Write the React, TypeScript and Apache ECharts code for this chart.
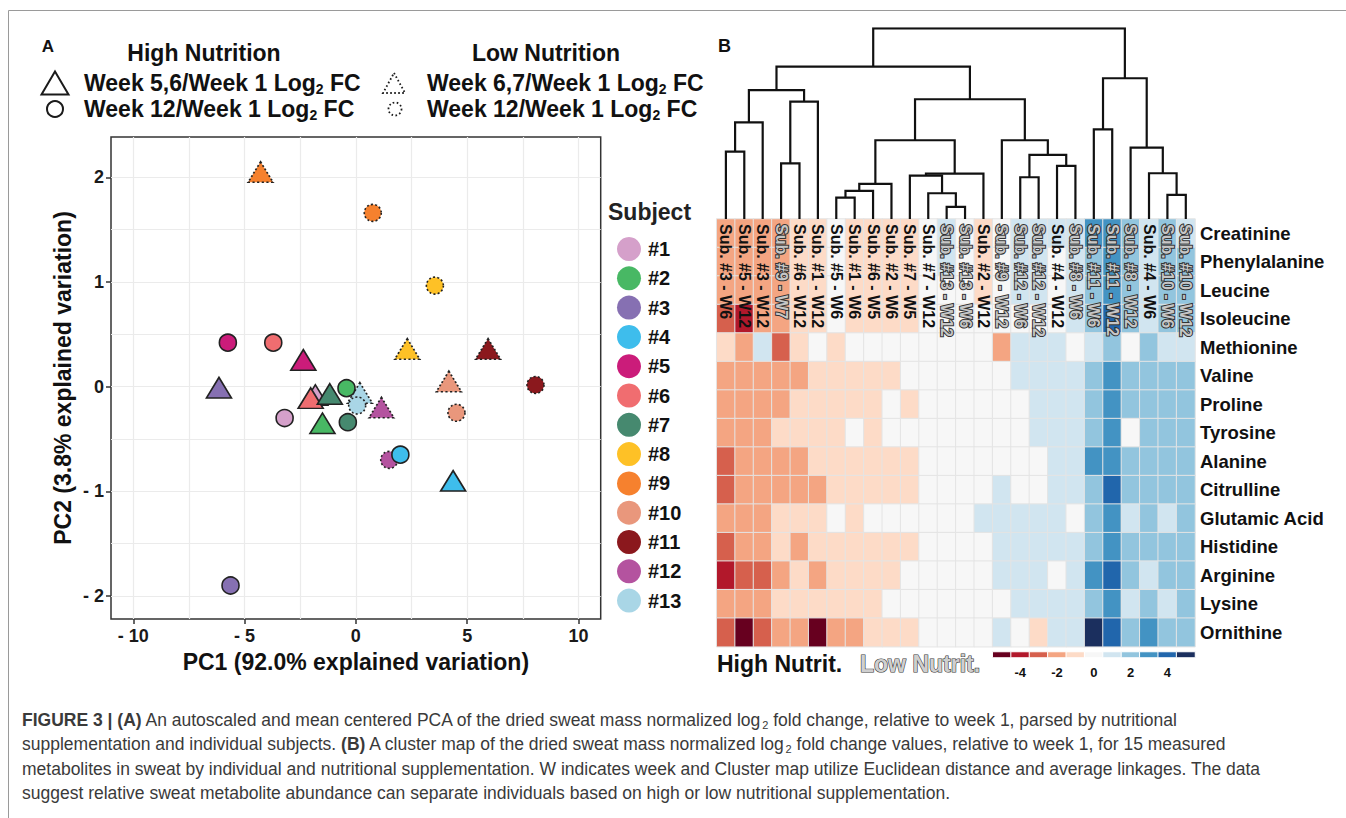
import React, { useEffect, useRef } from "react";
import * as echarts from "echarts";

const FONT = "'Liberation Sans', Arial, Helvetica, sans-serif";

// ---------- Panel A : PCA ----------
const subjects = ["#1", "#2", "#3", "#4", "#5", "#6", "#7", "#8", "#9", "#10", "#11", "#12", "#13"];
const subjectColors = ["#D5A0CA", "#48B864", "#8670B2", "#3EBDEC", "#CB1C7A", "#F06D70", "#46896F", "#FEC126", "#F6812E", "#E9977C", "#8B181D", "#B4539F", "#A9D6E6"];
const nutritionGroup = ["High", "High", "High", "High", "High", "High", "High", "Low", "Low", "Low", "Low", "Low", "Low"];
// triangle: Week 5,6 (high) or Week 6,7 (low) vs Week 1
const midWeekPC1 = [-1.82, -1.5, -6.15, 4.37, -2.36, -2.03, -1.17, 2.31, -4.28, 4.18, 5.94, 1.15, 0.18];
const midWeekPC2 = [-0.08, -0.35, -0.01, -0.9, 0.255, -0.11, -0.07, 0.36, 2.05, 0.05, 0.36, -0.2, -0.06];
// circle: Week 12 vs Week 1
const week12PC1 = [-3.2, -0.42, -5.63, 2.0, -5.75, -3.71, -0.36, 3.55, 0.76, 4.52, 8.07, 1.5, 0.06];
const week12PC2 = [-0.3, -0.015, -1.9, -0.65, 0.42, 0.42, -0.34, 0.965, 1.66, -0.25, 0.016, -0.7, -0.18];

const pcXMajor = [-10, -5, 0, 5, 10];
const pcXMinor = [-10, -7.5, -5, -2.5, 0, 2.5, 5, 7.5, 10];
const pcYMajor = [-2, -1, 0, 1, 2];
const pcYMinor = [-2, -1.5, -1, -0.5, 0, 0.5, 1, 1.5, 2];

// ---------- Panel B : cluster map ----------
const sampleLabels = [
  "Sub. #3 - W6", "Sub. #5 - W12", "Sub. #3 - W12", "Sub. #9 - W7", "Sub. #6 - W12", "Sub. #1 - W12",
  "Sub. #5 - W6", "Sub. #1 - W6", "Sub. #6 - W5", "Sub. #2 - W6", "Sub. #7 - W5", "Sub. #7 - W12",
  "Sub. #13 - W12", "Sub. #13 - W6", "Sub. #2 - W12", "Sub. #9 - W12", "Sub. #12 - W6", "Sub. #12 - W12",
  "Sub. #4 - W12", "Sub. #8 - W6", "Sub. #11 - W6", "Sub. #11 - W12", "Sub. #8 - W12", "Sub. #4 - W6",
  "Sub. #10 - W6", "Sub. #10 - W12",
];
const sampleGroup = ["H", "H", "H", "L", "H", "H", "H", "H", "H", "H", "H", "H", "L", "L", "H", "L", "L", "L", "H", "L", "L", "L", "L", "H", "L", "L"];

const metabolites = ["Creatinine", "Phenylalanine", "Leucine", "Isoleucine", "Methionine", "Valine", "Proline", "Tyrosine", "Alanine", "Citrulline", "Glutamic Acid", "Histidine", "Arginine", "Lysine", "Ornithine"];

const creatinine = [-2, -2, -2, -2, -1, -1, 0, -1, -1, -1, -1, 0, 1, 0, -1, 0, 1, 1, 1, 1, 3, 3, 2, 1, 2, 1];
const phenylalanine = [-2, -2, -2, -2, -1, -1, 0, -1, -1, -1, -1, 0, 1, 0, -1, 0, 1, 1, 0, 1, 2, 3, 2, 1, 2, 2];
const leucine = [-2, -2, -2, -2, -1, -1, 0, -1, -1, -1, -1, 0, 0, 0, -1, 0, 1, 1, 0, 1, 2, 3, 2, 1, 2, 2];
const isoleucine = [-3, -4, -2, -2, -1, -1, 0, -1, -1, -1, -1, 0, 0, 0, 0, 0, 0, 0, 0, 1, 2, 4, 2, 1, 2, 2];
const methionine = [-1, -2, 1, -3, -1, 0, -1, 0, 0, 0, 0, 0, 0, 0, 0, -2, 1, 1, 1, 0, 1, 2, 0, 2, 1, 1];
const valine = [-2, -2, -2, -2, -2, -1, -1, -1, -1, -1, 0, 0, 0, 0, 0, 0, 1, 1, 1, 1, 2, 3, 2, 2, 2, 2];
const proline = [-2, -2, -2, -2, -1, -1, -1, -1, -1, 0, -1, 0, 0, 0, 0, 0, 0, 1, 1, 1, 2, 3, 2, 2, 2, 2];
const tyrosine = [-2, -2, -2, -1, -1, -1, -1, 0, -1, 0, 0, 0, 0, 0, 0, 0, 0, 1, 1, 1, 2, 3, 0, 2, 2, 2];
const alanine = [-3, -2, -2, -2, -2, -1, -1, -1, -1, -1, -1, 0, 0, 0, 0, 0, 0, 0, 1, 1, 3, 3, 2, 2, 2, 2];
const citrulline = [-3, -2, -2, -2, -2, -2, -1, -1, -1, -1, -1, 0, 0, 0, 0, 1, 0, 0, 1, 1, 2, 4, 2, 2, 2, 2];
const glutamicAcid = [-2, -2, -2, -1, -1, -1, 0, -1, 0, 0, 0, 0, 0, 0, 1, 1, 1, 1, 1, 0, 2, 3, 1, 2, 1, 2];
const histidine = [-3, -2, -2, -1, -2, -1, -1, -1, -1, -1, -1, 0, 0, 0, 0, 1, 1, 1, 1, 1, 2, 3, 2, 2, 2, 2];
const arginine = [-4, -3, -3, -2, -1, -2, -1, -1, -1, -1, 0, 0, 0, 0, 0, 1, 1, 1, 0, 1, 3, 4, 2, 1, 2, 2];
const lysine = [-2, -2, -2, -1, -1, -1, -1, -1, -1, 0, 0, 0, 0, 0, 0, 0, 1, 1, 1, 1, 2, 3, 1, 2, 1, 2];
const ornithine = [-3, -5, -3, -2, -2, -5, -2, -2, -1, -1, -1, 0, 0, 0, 0, 1, 0, -1, 1, 1, 5, 4, 2, 3, 2, 2];

const foldLevels = [-5, -4, -3, -2, -1, 0, 1, 2, 3, 4, 5];
const levelColors = ["#67001F", "#B2182B", "#D6604D", "#F4A582", "#FDDBC7", "#F7F7F7", "#D1E5F0", "#92C5DE", "#4393C3", "#2166AC", "#1B2F5E"];
const colorbarTicks = [-4, -2, 0, 2, 4];

// dendrogram merges: [childA, childB, height]; ids 0..25 leaves, 26.. merges
const dendroMerges: [number, number, number][] = [
  [6, 7, 1.12], [26, 8, 1.47], [27, 9, 1.84], [12, 13, 0.64], [11, 29, 1.35], [10, 30, 2.27], [31, 14, 2.38],
  [28, 32, 4.13], [16, 17, 2.19], [18, 19, 2.79], [34, 35, 3.36], [15, 36, 4.13], [33, 37, 6.28],
  [0, 1, 3.53], [39, 2, 5.07], [3, 4, 2.92], [41, 5, 6.15], [40, 42, 6.76], [43, 38, 7.99],
  [20, 21, 4.7], [24, 25, 1.26], [23, 46, 2.4], [22, 47, 3.74], [45, 48, 7.38], [44, 49, 10.0],
];

const captionLines = [
  "{bd|FIGURE 3 | (A)}{r| An autoscaled and mean centered PCA of the dried sweat mass normalized log}{s|2}{r| fold change, relative to week 1, parsed by nutritional}",
  "{r|supplementation and individual subjects. }{bd|(B)}{r| A cluster map of the dried sweat mass normalized log}{s|2}{r| fold change values, relative to week 1, for 15 measured}",
  "{r|metabolites in sweat by individual and nutritional supplementation. W indicates week and Cluster map utilize Euclidean distance and average linkages. The data}",
  "{r|suggest relative sweat metabolite abundance can separate individuals based on high or low nutritional supplementation.}",
];

function signed(v: number) {
  return v < 0 ? "- " + Math.abs(v) : String(v);
}

function buildOption() {
  const heatRows = [creatinine, phenylalanine, leucine, isoleucine, methionine, valine, proline, tyrosine, alanine, citrulline, glutamicAcid, histidine, arginine, lysine, ornithine];
  const heatData: number[][] = [];
  heatRows.forEach((row, r) => row.forEach((v, c) => heatData.push([c, r, v])));

  const nodeX: number[] = [];
  const nodeH: number[] = [];
  for (let i = 0; i < sampleLabels.length; i++) {
    nodeX[i] = i + 0.5;
    nodeH[i] = 0;
  }
  const dendroLines = dendroMerges.map(([a, b, h], k) => {
    const id = sampleLabels.length + k;
    nodeX[id] = (nodeX[a] + nodeX[b]) / 2;
    nodeH[id] = h;
    return { coords: [[nodeX[a], nodeH[a]], [nodeX[a], h], [nodeX[b], h], [nodeX[b], nodeH[b]]] };
  });

  const order = [7, 8, 9, 10, 11, 12, 0, 1, 2, 3, 4, 5, 6];
  const scatterSeries = order.map((i) => {
    const low = nutritionGroup[i] === "Low";
    return {
      type: "scatter",
      name: subjects[i],
      xAxisIndex: 0,
      yAxisIndex: 0,
      silent: true,
      itemStyle: {
        color: subjectColors[i],
        borderColor: "#222",
        borderWidth: 1.6,
        borderType: low ? [2, 2.2] : "solid",
        opacity: 1,
      },
      data: [
        { value: [midWeekPC1[i], midWeekPC2[i]], symbol: "triangle", symbolSize: [25, 20.5] },
        { value: [week12PC1[i], week12PC2[i]], symbol: "circle", symbolSize: 17 },
      ],
    };
  });

  const bold = (size: number, color = "#111") => ({ fontSize: size, fontWeight: "bold", fontFamily: FONT, color });

  const legendRich = {
    b: { fontSize: 23, fontWeight: "bold", fontFamily: FONT, fill: "#111", lineHeight: 26 },
    s: { fontSize: 14, fontWeight: "bold", fontFamily: FONT, fill: "#111", lineHeight: 14, verticalAlign: "bottom" },
  };
  const legendText = (x: number, y: number, a: string) => ({
    type: "text",
    x,
    y,
    style: { text: `{b|${a} Log}{s|2}{b| FC}`, rich: legendRich, align: "left", verticalAlign: "middle" },
  });

  const capRich = {
    r: { fontSize: 17.5, fontFamily: FONT, fill: "#3a3a3a", lineHeight: 20 },
    bd: { fontSize: 17.5, fontFamily: FONT, fontWeight: "bold", fill: "#3a3a3a", lineHeight: 20 },
    s: { fontSize: 11, fontFamily: FONT, fill: "#3a3a3a", lineHeight: 11, verticalAlign: "bottom" },
  };

  const graphic: any[] = [
    { type: "line", shape: { x1: 8.5, y1: 10.5, x2: 1346, y2: 10.5 }, style: { stroke: "#9a9a9a", lineWidth: 1 } },
    { type: "line", shape: { x1: 8.5, y1: 10.5, x2: 8.5, y2: 818 }, style: { stroke: "#9a9a9a", lineWidth: 1 } },
    { type: "text", x: 48, y: 46, style: { text: "A", fontSize: 17, fontWeight: "bold", fontFamily: FONT, fill: "#111", align: "center", verticalAlign: "middle" } },
    { type: "text", x: 718, y: 46, style: { text: "B", fontSize: 18, fontWeight: "bold", fontFamily: FONT, fill: "#111", align: "left", verticalAlign: "middle" } },
    { type: "text", x: 204, y: 53, style: { text: "High Nutrition", fontSize: 23, fontWeight: "bold", fontFamily: FONT, fill: "#111", align: "center", verticalAlign: "middle" } },
    { type: "text", x: 546, y: 53, style: { text: "Low Nutrition", fontSize: 23, fontWeight: "bold", fontFamily: FONT, fill: "#111", align: "center", verticalAlign: "middle" } },
    { type: "polygon", shape: { points: [[55, 71.5], [68.5, 94.5], [41.5, 94.5]] }, style: { fill: "none", stroke: "#1a1a1a", lineWidth: 2 } },
    { type: "circle", shape: { cx: 55, cy: 109, r: 8 }, style: { fill: "none", stroke: "#1a1a1a", lineWidth: 2 } },
    { type: "polygon", shape: { points: [[394, 73], [405, 93], [383, 93]] }, style: { fill: "none", stroke: "#1a1a1a", lineWidth: 1.8, lineDash: [1.6, 2.4] } },
    { type: "circle", shape: { cx: 395, cy: 109, r: 6.5 }, style: { fill: "none", stroke: "#1a1a1a", lineWidth: 1.8, lineDash: [1.6, 2.4] } },
    legendText(84, 83, "Week 5,6/Week 1"),
    legendText(427, 83, "Week 6,7/Week 1"),
    legendText(84, 109, "Week 12/Week 1"),
    legendText(427, 109, "Week 12/Week 1"),
    { type: "text", x: 608, y: 212, style: { text: "Subject", fontSize: 23, fontWeight: "bold", fontFamily: FONT, fill: "#222", align: "left", verticalAlign: "middle" } },
    { type: "text", x: 717, y: 664, style: { text: "High Nutrit.", fontSize: 23, fontWeight: "bold", fontFamily: FONT, fill: "#111", align: "left", verticalAlign: "middle" } },
    { type: "text", x: 860, y: 664, style: { text: "Low Nutrit.", fontSize: 23, fontWeight: "bold", fontFamily: FONT, fill: "#cfcfcf", stroke: "#3a3a3a", lineWidth: 1.2, align: "left", verticalAlign: "middle" } },
  ];
  captionLines.forEach((t, i) => {
    graphic.push({ type: "text", x: 22, y: 720 + i * 24.4, style: { text: t, rich: capRich, align: "left", verticalAlign: "middle" } });
  });

  return {
    animation: false,
    backgroundColor: "#fff",
    textStyle: { fontFamily: FONT },
    grid: [
      { left: 111, top: 137, width: 489.7, height: 482, show: true, borderColor: "#333", borderWidth: 1.5, backgroundColor: "transparent" },
      { left: 716.7, top: 219, width: 478.3, height: 427.7 },
      { left: 716.7, top: 28.3, width: 478.3, height: 190.7 },
      { left: 992.7, top: 652, width: 202.3, height: 5.5 },
    ],
    legend: {
      data: subjects,
      orient: "vertical",
      left: 617,
      top: 237,
      padding: 0,
      itemWidth: 24,
      itemHeight: 24,
      itemGap: 5.3,
      icon: "circle",
      selectedMode: false,
      itemStyle: { borderWidth: 0 },
      textStyle: { ...bold(20, "#111"), padding: [0, 0, 0, 2] },
    },
    xAxis: [
      {
        gridIndex: 0, type: "value", min: -11, max: 11,
        axisLine: { show: false, onZero: false },
        axisTick: { show: false, customValues: pcXMinor },
        axisLabel: { show: false },
        splitLine: { show: true, customValues: pcXMinor, lineStyle: { color: "#EBEBEB", width: 1.2 } },
      },
      {
        gridIndex: 0, type: "value", min: -11, max: 11, position: "bottom",
        axisLine: { show: false, onZero: false },
        axisTick: { show: true, customValues: pcXMajor, length: 5, lineStyle: { color: "#333", width: 1.5 } },
        axisLabel: { customValues: pcXMajor, formatter: (v: number) => signed(v), ...bold(18, "#1a1a1a"), margin: 8 },
        splitLine: { show: false },
        name: "PC1 (92.0% explained variation)", nameLocation: "middle", nameGap: 31,
        nameTextStyle: bold(23, "#111"),
      },
      {
        gridIndex: 1, type: "category", data: sampleLabels, position: "top", z: 5,
        axisLine: { show: false }, axisTick: { show: false }, splitLine: { show: false },
        axisLabel: {
          inside: true, rotate: 90, interval: 0, margin: 5,
          formatter: (v: string, i: number) => (sampleGroup[i] === "L" ? `{lo|${v}}` : `{hi|${v}}`),
          rich: {
            hi: { fontSize: 16, fontWeight: "bold", fontFamily: FONT, color: "#111" },
            lo: { fontSize: 16, fontWeight: "bold", fontFamily: FONT, color: "#c6c6c6", textBorderColor: "#333", textBorderWidth: 2 },
          },
        },
      },
      { gridIndex: 2, type: "value", min: 0, max: 26, show: false },
      {
        gridIndex: 3, type: "category", data: foldLevels.map(String), position: "bottom",
        axisLine: { show: false }, axisTick: { show: false }, splitLine: { show: false },
        axisLabel: { interval: (_i: number, v: string) => colorbarTicks.includes(Number(v)), ...bold(13, "#111"), margin: 8 },
      },
    ],
    yAxis: [
      {
        gridIndex: 0, type: "value", min: -2.22, max: 2.385,
        axisLine: { show: false, onZero: false },
        axisTick: { show: false, customValues: pcYMinor },
        axisLabel: { show: false },
        splitLine: { show: true, customValues: pcYMinor, lineStyle: { color: "#EBEBEB", width: 1.2 } },
      },
      {
        gridIndex: 0, type: "value", min: -2.22, max: 2.385, position: "left",
        axisLine: { show: false, onZero: false },
        axisTick: { show: true, customValues: pcYMajor, length: 5, lineStyle: { color: "#333", width: 1.5 } },
        axisLabel: { customValues: pcYMajor, formatter: (v: number) => signed(v), ...bold(18, "#1a1a1a"), margin: 7 },
        splitLine: { show: false },
        name: "PC2 (3.8% explained variation)", nameLocation: "middle", nameGap: 37, nameRotate: 90,
        nameTextStyle: bold(23, "#111"),
      },
      {
        gridIndex: 1, type: "category", data: metabolites, inverse: true, position: "right",
        axisLine: { show: false }, axisTick: { show: false }, splitLine: { show: false },
        axisLabel: { interval: 0, margin: 5, ...bold(18.5, "#111") },
      },
      { gridIndex: 2, type: "value", min: 0, max: 10, show: false },
      { gridIndex: 3, type: "category", data: ["scale"], show: false },
    ],
    visualMap: {
      type: "piecewise",
      show: false,
      seriesIndex: [13, 14],
      dimension: 2,
      pieces: foldLevels.map((v, i) => ({ value: v, color: levelColors[i] })),
    },
    series: [
      ...scatterSeries,
      {
        type: "heatmap", xAxisIndex: 2, yAxisIndex: 2, data: heatData, silent: true, z: 2,
        itemStyle: { borderColor: "#e4e4e4", borderWidth: 1 },
      },
      {
        type: "heatmap", xAxisIndex: 4, yAxisIndex: 4, silent: true,
        data: foldLevels.map((v, i) => [i, 0, v]),
        itemStyle: { borderColor: "#fff", borderWidth: 1 },
      },
      {
        type: "lines", coordinateSystem: "cartesian2d", xAxisIndex: 3, yAxisIndex: 3, polyline: true, silent: true,
        data: dendroLines,
        lineStyle: { color: "#111", width: 2.2, opacity: 1 },
      },
    ],
    graphic,
  };
}

export default function App() {
  const ref = useRef<HTMLDivElement>(null);
  useEffect(() => {
    if (!ref.current) return;
    const chart = echarts.init(ref.current, undefined, { renderer: "svg" });
    chart.setOption(buildOption() as any);
    return () => chart.dispose();
  }, []);
  return <div ref={ref} style={{ position: "fixed", left: 0, top: 0, width: 1346, height: 818, background: "#fff" }} />;
}
